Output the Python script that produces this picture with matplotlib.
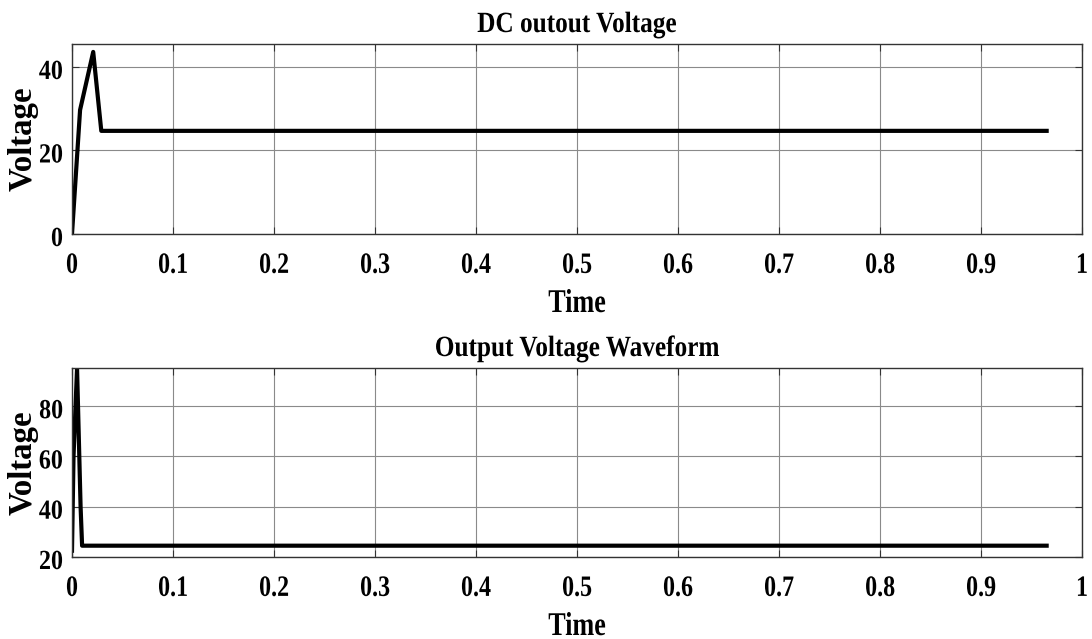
import matplotlib
matplotlib.use("Agg")
import matplotlib.pyplot as plt
from matplotlib.patheffects import AbstractPathEffect
from matplotlib.transforms import Affine2D

# DC output voltage (top panel)
dc_time = [0.0, 0.008, 0.021, 0.029, 0.965]
dc_volt = [0.0, 29.7, 43.6, 24.7, 24.7]

# Output voltage waveform (bottom panel)
out_time = [0.0, 0.0015, 0.005, 0.0085, 0.010, 0.965]
out_volt = [22.5, 60.0, 95.0, 40.0, 24.5, 24.5]

x_ticks = [0, 0.1, 0.2, 0.3, 0.4, 0.5, 0.6, 0.7, 0.8, 0.9, 1]
x_labels = ["0", "0.1", "0.2", "0.3", "0.4", "0.5", "0.6", "0.7", "0.8", "0.9", "1"]
dc_yticks = [0, 20, 40]
out_yticks = [20, 40, 60, 80]


class Stretch(AbstractPathEffect):
    """Draw glyphs taller than wide (vertical scale about the baseline),
    optionally shifted by dy display pixels."""

    def __init__(self, sy=1.0, dy=0.0):
        super().__init__()
        self.sy = sy
        self.dy = dy

    def draw_path(self, renderer, gc, tpath, affine, rgbFace=None):
        t = Affine2D().scale(1.0, self.sy) + affine + Affine2D().translate(0, self.dy)
        renderer.draw_path(gc, tpath, t, rgbFace)


plt.rcParams["font.family"] = ["Liberation Serif", "DejaVu Serif"]
plt.rcParams["font.weight"] = "bold"

W, H = 1092, 639
fig = plt.figure(figsize=(W / 100, H / 100), dpi=100)


def make_axes(left, top, right, bottom):
    return fig.add_axes([left / W, 1 - bottom / H, (right - left) / W, (bottom - top) / H])


ax1 = make_axes(72, 44, 1082, 234)
ax2 = make_axes(72, 368, 1082, 557)


def style(ax, yticks, ylim, title):
    h = ax.get_position().height * H
    ax.set_xlim(0, 1)
    ax.set_ylim(*ylim)
    ax.set_xticks(x_ticks)
    ax.set_xticklabels(x_labels)
    ax.set_yticks(yticks)
    ax.grid(True, color="#8a8a8a", linewidth=0.8)
    ax.tick_params(direction="in", length=5, width=0.8, labelsize=17.3,
                   top=True, right=True, color="#333333")
    ax.tick_params(axis="x", pad=28)
    ax.tick_params(axis="y", pad=6.5)
    for lbl in ax.get_xticklabels():
        lbl.set_fontweight("bold")
        lbl.set_verticalalignment("baseline")
        lbl.set_path_effects([Stretch(1.23)])
    for lbl in ax.get_yticklabels():
        lbl.set_fontweight("bold")
        lbl.set_verticalalignment("baseline")
        lbl.set_path_effects([Stretch(1.15, -12)])
    for sp in ax.spines.values():
        sp.set_linewidth(1.0)
        sp.set_color("#333333")

    xl = ax.set_xlabel("Time", fontsize=18.8, fontweight="bold", va="baseline")
    xl.set_path_effects([Stretch(1.27)])
    ax.xaxis.set_label_coords(0.5, -78 / h)

    ax.set_ylabel("Voltage", fontsize=23.7, fontweight="bold")
    ax.yaxis.set_label_coords(-33 / 1010, 0.5)

    tt = ax.set_title(title, fontsize=18.2, fontweight="bold", pad=0,
                      y=1 + 12 / h, va="baseline")
    tt.set_path_effects([Stretch(1.16)])


ax1.plot(dc_time, dc_volt, color="black", linewidth=3.0, solid_joinstyle="round")
style(ax1, dc_yticks, (0, 45.5), "DC outout Voltage")

ax2.plot(out_time, out_volt, color="black", linewidth=3.0, solid_joinstyle="round")
style(ax2, out_yticks, (20, 95.2), "Output Voltage Waveform")

fig.savefig("out.png", dpi=100)
